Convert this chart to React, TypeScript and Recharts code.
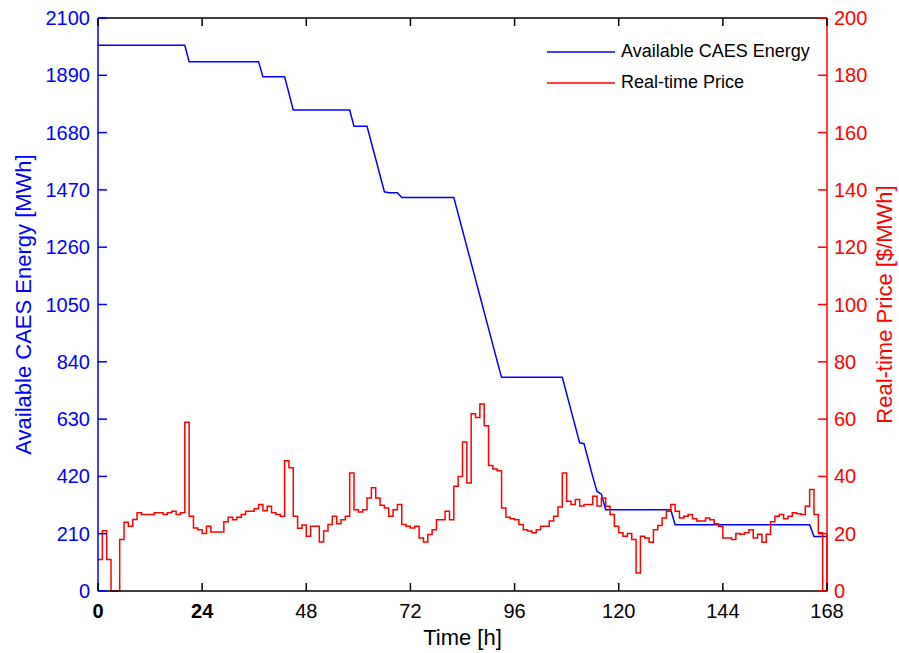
import { ComposedChart, Line, XAxis, YAxis, Legend } from 'recharts';

// hourly values, index = hour (0..168)
const ENERGY = [
  2000, 2000, 2000, 2000, 2000, 2000, 2000, 2000, 2000, 2000, 2000, 2000, 2000, 2000, 2000, 2000, 2000, 2000, 2000, 2000, 2000,
  1940, 1940, 1940, 1940, 1940, 1940, 1940, 1940, 1940, 1940, 1940, 1940, 1940, 1940, 1940, 1940, 1940,
  1885, 1885, 1885, 1885, 1885, 1885,
  1824,
  1763, 1763, 1763, 1763, 1763, 1763, 1763, 1763, 1763, 1763, 1763, 1763, 1763, 1763,
  1703, 1703, 1703, 1703,
  1643, 1583, 1523, 1463,
  1460, 1460, 1460,
  1442, 1442, 1442, 1442, 1442, 1442, 1442, 1442, 1442, 1442, 1442, 1442, 1442,
  1382, 1322, 1262, 1202, 1142, 1082, 1022, 962, 902, 842, 783,
  783, 783, 783, 783, 783, 783, 783, 783, 783, 783, 783, 783, 783, 783,
  723, 663, 603, 543, 540, 480, 420, 365, 355, 298,
  298, 298, 298, 298, 298, 298, 298, 298, 298, 298, 298, 298, 298, 298, 298,
  243, 243, 243, 243, 243, 243, 243, 243, 243, 243, 243, 243, 243, 243, 243, 243,
  243, 243, 243, 243, 243, 243, 243, 243, 243, 243, 243, 243, 243, 243, 243, 243,
  200, 200, 200, 200,
];

const PRICE = [
  11, 21, 11, 0, 0, 18, 24, 22.6, 25, 27.3, 26.7, 26.7, 26.7, 27.3, 27.3, 26.7, 27.3, 27.8, 26.7, 27.3,
  58.9, 26.1, 22, 21.4, 20.1, 22.6, 20.6, 20.6, 20.6, 24.2, 25.7, 24.9, 25.7, 26.7, 27.8, 27.8, 28.7, 30.2, 28, 29.6,
  27.3, 26.7, 26.1, 45.5, 43, 26.1, 21.9, 23, 19.1, 22.6, 22.6, 17.1, 20.9, 23.2, 26.1, 23.5, 24.9, 26.1, 41.2, 28.4,
  27.6, 28.4, 32.5, 36, 32.5, 29.9, 29, 26.1, 28.4, 30.2, 23.2, 22.6, 22, 22.6, 18.5, 17.1, 19.7, 21.4, 24.9, 24.9,
  27.8, 24.9, 36.6, 40, 52, 37.7, 61.9, 60.6, 65.3, 57.7, 43.8, 42.6, 42, 29, 25.7, 25.2, 24.9, 23.2, 21.4, 20.9,
  20.3, 21.4, 22.6, 22.6, 24.4, 26.1, 29.3, 41.2, 31.3, 30.2, 31.9, 29.7, 30.2, 30.2, 33.1, 29.7, 32.5, 29.6, 26.7, 22.6,
  20.3, 19.1, 20.1, 18, 6.3, 19.1, 18.5, 17, 21.4, 22.9, 25.5, 27.8, 30.2, 27.8, 25.5, 26.1, 26.7, 25.2, 24.4, 24.4,
  25.5, 24.9, 23.5, 22.6, 18.5, 18.5, 18, 20.1, 19.8, 20.3, 21.4, 18.5, 19.8, 17, 19.8, 24.2, 26.1, 26.7, 25.2, 26.1,
  27.3, 27, 26.7, 29.6, 35.4, 26.7, 20.3, 0, 20,
];

const X_TICKS = [0, 24, 48, 72, 96, 120, 144, 168];
const BOLD_X_TICKS = [0, 24];
const ENERGY_TICKS = [0, 210, 420, 630, 840, 1050, 1260, 1470, 1680, 1890, 2100];
const PRICE_TICKS = [0, 20, 40, 60, 80, 100, 120, 140, 160, 180, 200];

const FONT = '"Liberation Sans", Arial, sans-serif';
const BLUE = '#0000ff';
const RED = '#ff0000';

const SERIES = [
  { key: 'energy', name: 'Available CAES Energy', color: BLUE },
  { key: 'price', name: 'Real-time Price', color: RED },
];

const data = ENERGY.map((energy, i) => ({ hour: i, energy, price: PRICE[i] }));

function XTick(props: any) {
  const { x, y, payload } = props;
  const bold = BOLD_X_TICKS.includes(payload.value);
  return (
    <g>
      <line x1={x} x2={x} y1={y - 10} y2={y - 18} stroke="#000" strokeWidth={1.5} />
      <text x={x} y={y} dy={17} textAnchor="middle" fontSize={20} fontFamily={FONT} fontWeight={bold ? 700 : 400} fill="#000">
        {payload.value}
      </text>
    </g>
  );
}

// top border: tick marks only, pointing down into the plot
function TopTick(props: any) {
  const { x, y } = props;
  return <line x1={x} x2={x} y1={y} y2={y + 8} stroke="#000" strokeWidth={1.5} />;
}

function LeftTick(props: any) {
  const { x, y, payload } = props;
  return (
    <g>
      <line x1={x + 8} x2={x + 17} y1={y} y2={y} stroke={BLUE} strokeWidth={1.5} />
      <text x={x} y={y} dy={7} textAnchor="end" fontSize={20} fontFamily={FONT} fill={BLUE}>
        {payload.value}
      </text>
    </g>
  );
}

function RightTick(props: any) {
  const { x, y, payload } = props;
  return (
    <g>
      <line x1={x - 7} x2={x - 16} y1={y} y2={y} stroke={RED} strokeWidth={1.5} />
      <text x={x} y={y} dy={7} textAnchor="start" fontSize={20} fontFamily={FONT} fill={RED}>
        {payload.value}
      </text>
    </g>
  );
}

function LegendContent() {
  return (
    <div style={{ fontFamily: FONT, fontSize: 18, color: '#000' }}>
      {SERIES.map((s) => (
        <div key={s.key} style={{ display: 'flex', alignItems: 'center', height: 31 }}>
          <svg width={68} height={4}>
            <line x1={0} x2={68} y1={2} y2={2} stroke={s.color} strokeWidth={1.5} />
          </svg>
          <span style={{ marginLeft: 6, whiteSpace: 'nowrap' }}>{s.name}</span>
        </div>
      ))}
    </div>
  );
}

export default function App() {
  return (
    <div style={{ position: 'absolute', left: 0, top: 0, background: '#fff' }}>
      <ComposedChart width={899} height={653} data={data} margin={{ top: 17, right: 0, bottom: 0, left: 0 }}>
        <XAxis
          dataKey="hour"
          type="number"
          domain={[0, 168]}
          ticks={X_TICKS}
          interval={0}
          height={62}
          tickSize={0}
          tickMargin={10}
          tickLine={false}
          tick={<XTick />}
          axisLine={{ stroke: '#000', strokeWidth: 1.5 }}
          label={{ value: 'Time [h]', position: 'insideBottom', offset: 8, style: { fill: '#000', fontSize: 22, fontFamily: FONT } }}
        />
        <XAxis
          xAxisId="top"
          dataKey="hour"
          type="number"
          orientation="top"
          domain={[0, 168]}
          ticks={X_TICKS}
          interval={0}
          height={1}
          tickSize={0}
          tickMargin={0}
          tickLine={false}
          tick={<TopTick />}
          axisLine={{ stroke: '#000', strokeWidth: 1.5 }}
        />
        <YAxis
          yAxisId="energy"
          domain={[0, 2100]}
          ticks={ENERGY_TICKS}
          interval={0}
          width={98}
          tickSize={0}
          tickMargin={8}
          tickLine={false}
          tick={<LeftTick />}
          axisLine={{ stroke: BLUE, strokeWidth: 1.5 }}
          label={{
            value: 'Available CAES Energy [MWh]',
            angle: -90,
            position: 'insideLeft',
            offset: 23,
            style: { textAnchor: 'middle', fill: BLUE, fontSize: 22, fontFamily: FONT },
          }}
        />
        <YAxis
          yAxisId="price"
          orientation="right"
          domain={[0, 200]}
          ticks={PRICE_TICKS}
          interval={0}
          width={72}
          tickSize={0}
          tickMargin={7}
          tickLine={false}
          tick={<RightTick />}
          axisLine={{ stroke: RED, strokeWidth: 1.5 }}
          label={{
            value: 'Real-time Price [$/MWh]',
            angle: -90,
            position: 'insideRight',
            offset: 15,
            style: { textAnchor: 'middle', fill: RED, fontSize: 22, fontFamily: FONT },
          }}
        />
        <Legend
          layout="horizontal"
          verticalAlign="middle"
          align="center"
          wrapperStyle={{ top: 36, left: 547, width: 'auto' }}
          content={<LegendContent />}
        />
        <Line
          xAxisId="top"
          yAxisId="energy"
          dataKey="energy"
          name="Available CAES Energy"
          type="linear"
          stroke={BLUE}
          strokeWidth={1.5}
          dot={false}
          isAnimationActive={false}
        />
        <Line
          yAxisId="price"
          dataKey="price"
          name="Real-time Price"
          type="stepAfter"
          stroke={RED}
          strokeWidth={1.5}
          dot={false}
          isAnimationActive={false}
        />
      </ComposedChart>
    </div>
  );
}
